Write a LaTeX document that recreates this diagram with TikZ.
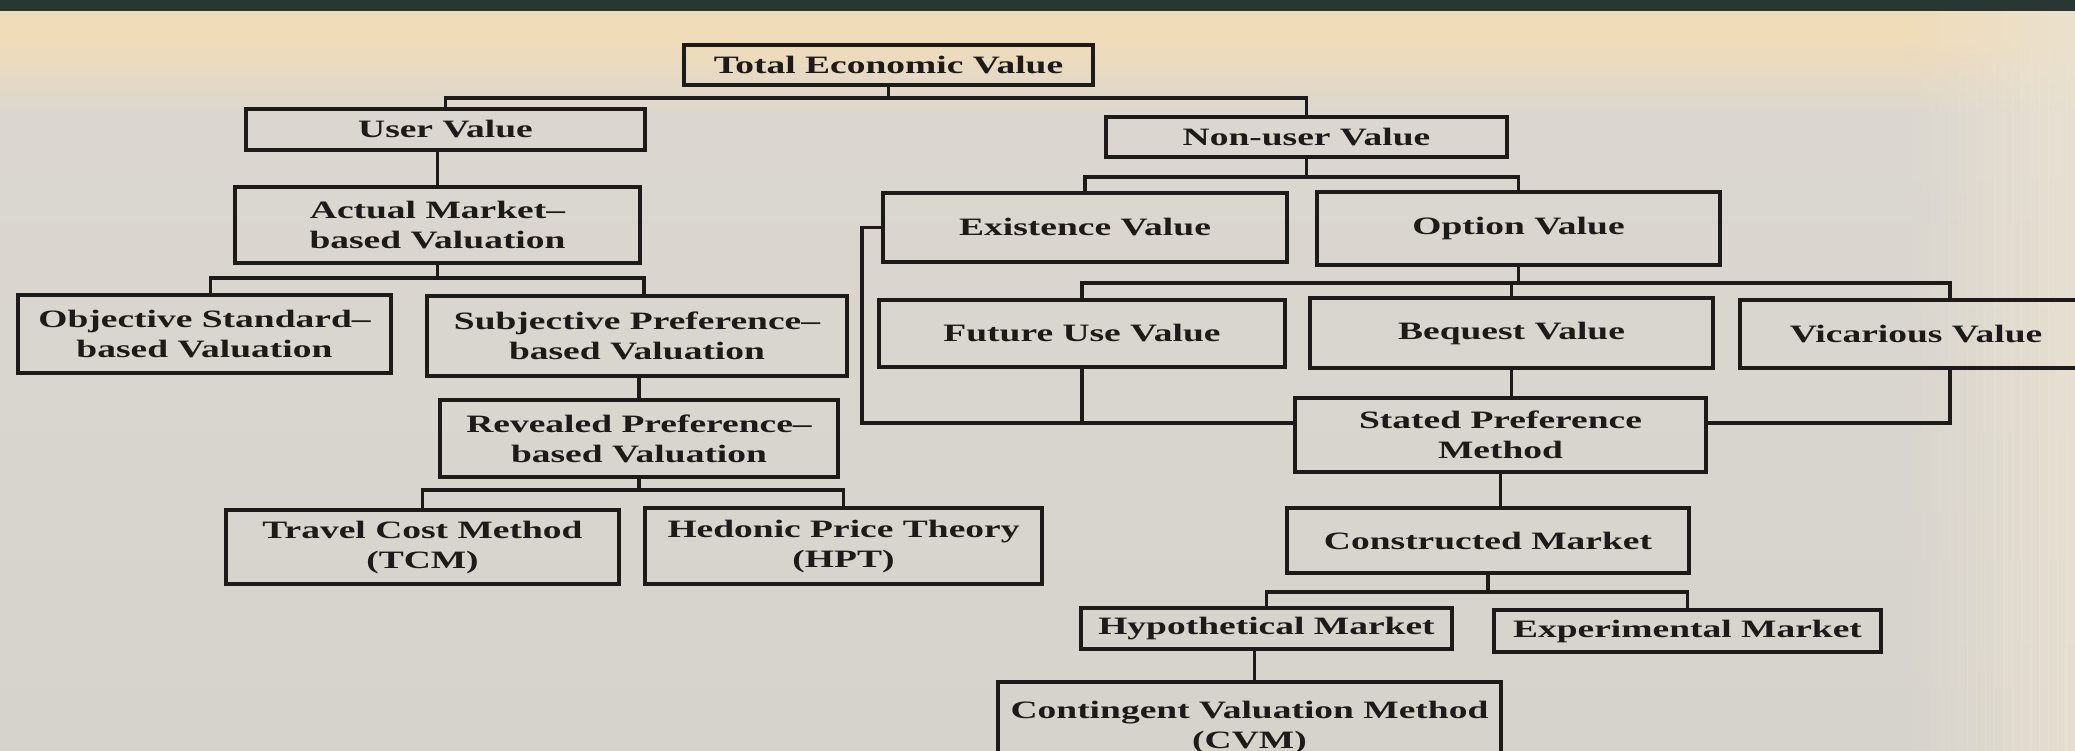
\documentclass[tikz,border=0pt]{standalone}
\usepackage{fontspec}
\newfontfamily\boxfont{Liberation Serif}[FakeStretch=1.5]
\usetikzlibrary{calc}
\definecolor{band}{HTML}{283733}
\definecolor{paper}{HTML}{DBD7D0}
\definecolor{papertop}{HTML}{F0DCB9}
\definecolor{paperlow}{HTML}{D6D3CD}
\definecolor{paperright}{HTML}{EAE2D2}
\definecolor{ink}{HTML}{1C1B1A}
% paper tone: warm cream at the top edge, grey further down
\pgfdeclareverticalshading{paperv}{100bp}{color(0bp)=(paperlow); color(25bp)=(paperlow);
  color(68bp)=(paper); color(73bp)=(papertop); color(75bp)=(papertop); color(100bp)=(papertop)}
\tikzset{
  box/.style={draw=ink, line width=3.8pt, text=ink, align=center, inner sep=0pt,
    font=\boxfont\bfseries\fontsize{25}{30}\selectfont},
  wh/.style 2 args={minimum width=#1pt, minimum height=#2pt},
  link/.style={draw=ink, line width=3.5pt}
}
\begin{document}
\begin{tikzpicture}[x=1pt,y=-1pt]
% page and paper
\useasboundingbox (0,0) rectangle (2075,751);
\clip (0,0) rectangle (2075,751);
\shade[shading=paperv] (0,11) rectangle (2075,751);
% lighter paper towards the right edge
\foreach \i in {0,...,19}
  \fill[paperright, opacity=0.04*\i] ({1895+9*\i},11) rectangle ({1904.5+9*\i},751);
\fill[band] (0,0) rectangle (2075,11);

% boxes
\node[box, wh={409}{40}] (tev) at (888.5,65) {Total Economic Value};
\node[box, wh={399}{41}] (user) at (445.5,129.5) {User Value};
\node[box, wh={401}{40}] (nonuser) at (1306.5,137) {Non-user Value};
\node[box, wh={405}{76}] (amv) at (437.5,225) {Actual Market–\\based Valuation};
\node[box, wh={404}{69}] (exist) at (1085,227.5) {Existence Value};
\node[box, wh={403}{73}] (option) at (1518.5,228.5) {Option Value};
\node[box, wh={373}{78}] (obj) at (204.5,334) {Objective Standard–\\based Valuation};
\node[box, wh={420}{80}] (subj) at (637,336) {Subjective Preference–\\based Valuation};
\node[box, wh={406}{67}] (future) at (1082,333.5) {Future Use Value};
\node[box, wh={403}{70}] (bequest) at (1511.5,333) {Bequest Value};
\node[box, wh={352}{68}] (vicar) at (1916,334) {Vicarious Value};
\node[box, wh={398}{77}] (revealed) at (639,438.5) {Revealed Preference–\\based Valuation};
\node[box, wh={411}{74}] (stated) at (1500.5,435) {Stated Preference\\Method};
\node[box, wh={393}{74}] (tcm) at (422.5,547) {Travel Cost Method\\(TCM)};
\node[box, wh={397}{76}] (hpt) at (843.5,546) {Hedonic Price Theory\\(HPT)};
\node[box, wh={402}{65}] (constructed) at (1488,540.5) {Constructed Market};
\node[box, wh={371}{41}] (hypo) at (1266.5,628.5) {Hypothetical Market};
\node[box, wh={387}{42}] (exper) at (1687.5,631) {Experimental Market};
\node[box, wh={503}{90}] (cvm) at (1249.5,727) {Contingent Valuation Method\\(CVM)};

% tree connectors
\coordinate (b1) at (890,98);
\draw[link] (tev.south) -- (tev.south |- b1);
\draw[link] (user.north) |- (b1) -| (nonuser.north);
\draw[link] (amv.north) -- (amv.north |- user.south);

\coordinate (b2) at (426,278);
\draw[link] (amv.south) -- (amv.south |- b2);
\draw[link] ([xshift=6pt]obj.north) |- (b2) -| ([xshift=7pt]subj.north);

\coordinate (b3) at (1304,177);
\draw[link] (nonuser.south) -- (nonuser.south |- b3);
\draw[link] (exist.north) |- (b3) -| (option.north);

\coordinate (b4) at (1514,283);
\draw[link] (option.south) -- (option.south |- b4);
\draw[link] (future.north) |- (b4) -| ([xshift=34pt]vicar.north);
\draw[link] (bequest.north) -- (bequest.north |- b4);

\draw[link] (revealed.north) -- (revealed.north |- subj.south);
\coordinate (b5) at (637,490);
\draw[link] (revealed.south) -- (revealed.south |- b5);
\draw[link] (tcm.north) |- (b5) -| (hpt.north);

% feeders into the stated preference method
\coordinate (sj) at (862,423);
\draw[link] (exist.west) -| (sj) -- (sj -| stated.west);
\draw[link] (future.south) -- (future.south |- sj);
\draw[link] (bequest.south) -- (bequest.south |- stated.north);
\draw[link] ([xshift=34pt]vicar.south) |- (sj -| stated.east);

\draw[link] (stated.south) -- (stated.south |- constructed.north);
\coordinate (b7) at (1487,592);
\draw[link] (constructed.south) -- (constructed.south |- b7);
\draw[link] (hypo.north) |- (b7) -| (exper.north);
\draw[link] ([xshift=-12pt]hypo.south) -- ([xshift=-12pt]hypo.south |- cvm.north);
\end{tikzpicture}
\end{document}
